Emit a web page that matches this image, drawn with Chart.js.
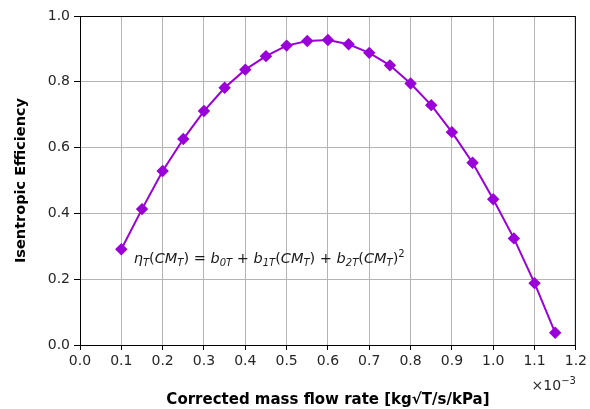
<!DOCTYPE html>
<html><head><meta charset="utf-8">
<script src="https://cdn.jsdelivr.net/npm/chart.js@4.4.1/dist/chart.umd.min.js"></script>
<style>html,body{margin:0;padding:0;background:#fff}#wrap{width:590px;height:409px}</style>
</head><body><div id="wrap"><canvas id="c" width="590" height="409"></canvas></div>
<script>
// x in units of 1e-3 kg√T/s/kPa
const massFlow = [0.10,0.15,0.20,0.25,0.30,0.35,0.40,0.45,0.50,0.55,0.60,0.65,0.70,0.75,0.80,0.85,0.90,0.95,1.00,1.05,1.10,1.15];
const efficiency = [0.291,0.413,0.529,0.626,0.711,0.782,0.837,0.878,0.910,0.924,0.927,0.914,0.888,0.850,0.795,0.729,0.647,0.554,0.443,0.324,0.188,0.037];
const xTicks = [0.0,0.1,0.2,0.3,0.4,0.5,0.6,0.7,0.8,0.9,1.0,1.1,1.2];
const yTicks = [0.0,0.2,0.4,0.6,0.8,1.0];
const xTitle = 'Corrected mass flow rate [kg\u221AT/s/kPa]';
const yTitle = 'Isentropic Efficiency';
const offsetLabel = ['\u00D710', '\u22123'];
const formulaPos = {x: 0.13, y: 0.25};

const FONT = "'DejaVu Sans', sans-serif";
const TXT = '#262626';

const extras = {
  id: 'extras',
  afterDraw(chart) {
    const {ctx, chartArea: a, scales} = chart;
    ctx.save();
    ctx.strokeStyle = '#000'; ctx.lineWidth = 1;
    ctx.strokeRect(a.left + 0.5, a.top + 0.5, a.right - a.left - 1, a.bottom - a.top);
    // offset label
    ctx.fillStyle = TXT; ctx.textBaseline = 'alphabetic'; ctx.textAlign = 'left';
    ctx.font = '14px ' + FONT;
    const w1 = ctx.measureText(offsetLabel[0]).width;
    ctx.font = '10px ' + FONT;
    const w2 = ctx.measureText(offsetLabel[1]).width;
    let ox = a.right - w1 - w2;
    const oy = a.bottom + 45;
    ctx.font = '14px ' + FONT; ctx.fillText(offsetLabel[0], ox, oy);
    ctx.font = '10px ' + FONT; ctx.fillText(offsetLabel[1], ox + w1, oy - 6);
    // formula
    const parts = [
      ['\u03B7','n'],['T','s'],['(','r'],['CM','n'],['T','s'],[') = ','r'],
      ['b','n'],['0T','s'],[' + ','r'],['b','n'],['1T','s'],['(','r'],['CM','n'],['T','s'],[') + ','r'],
      ['b','n'],['2T','s'],['(','r'],['CM','n'],['T','s'],[')','r'],['2','p']
    ];
    let x = scales.x.getPixelForValue(formulaPos.x);
    const y = scales.y.getPixelForValue(formulaPos.y);
    ctx.fillStyle = '#1a1a1a';
    for (const [t, k] of parts) {
      let f, dy = 0;
      if (k === 'n') f = 'italic 14.5px ' + FONT;
      else if (k === 'r') f = '14.5px ' + FONT;
      else if (k === 's') { f = 'italic 10px ' + FONT; dy = 3; }
      else { f = '10px ' + FONT; dy = -6; }
      ctx.font = f;
      ctx.fillText(t, x, y + dy);
      x += ctx.measureText(t).width;
    }
    ctx.restore();
  }
};

new Chart(document.getElementById('c'), {
  type: 'line',
  data: { datasets: [{
    data: massFlow.map((v, i) => ({x: v, y: efficiency[i]})),
    borderColor: '#9a00d8', backgroundColor: '#9a00d8',
    borderWidth: 2, pointStyle: 'rectRot', pointRadius: 4.8, pointHoverRadius: 4.8,
    tension: 0, fill: false
  }]},
  options: {
    responsive: false, animation: false, devicePixelRatio: 1,
    layout: { padding: { top: 16, right: 13, left: 0, bottom: 0 } },
    plugins: { legend: { display: false }, tooltip: { enabled: false } },
    scales: {
      x: {
        type: 'linear', min: 0, max: 1.2,
        afterBuildTicks: s => { s.ticks = xTicks.map(v => ({value: v})); },
        afterFit: s => { s.height = 64; },
        ticks: { callback: v => v.toFixed(1), color: TXT, font: {family: FONT, size: 14}, padding: 3, maxRotation: 0 },
        grid: { color: '#b4b4b4', lineWidth: 1, tickColor: '#000', tickLength: 5 },
        border: { color: '#000', width: 1 },
        title: { display: true, text: xTitle, color: '#000', font: {family: FONT, size: 15, weight: 'bold'}, padding: {top: 20, bottom: 0} }
      },
      y: {
        type: 'linear', min: 0, max: 1.0,
        afterBuildTicks: s => { s.ticks = yTicks.map(v => ({value: v})); },
        afterFit: s => { s.width = 80; },
        ticks: { callback: v => v.toFixed(1), color: TXT, font: {family: FONT, size: 14}, padding: 4 },
        grid: { color: '#b4b4b4', lineWidth: 1, tickColor: '#000', tickLength: 6 },
        border: { color: '#000', width: 1 },
        title: { display: true, text: yTitle, color: '#000', font: {family: FONT, size: 14.5, weight: 'bold'}, padding: {top: 13, bottom: 10} }
      }
    }
  },
  plugins: [extras]
});
</script></body></html>
